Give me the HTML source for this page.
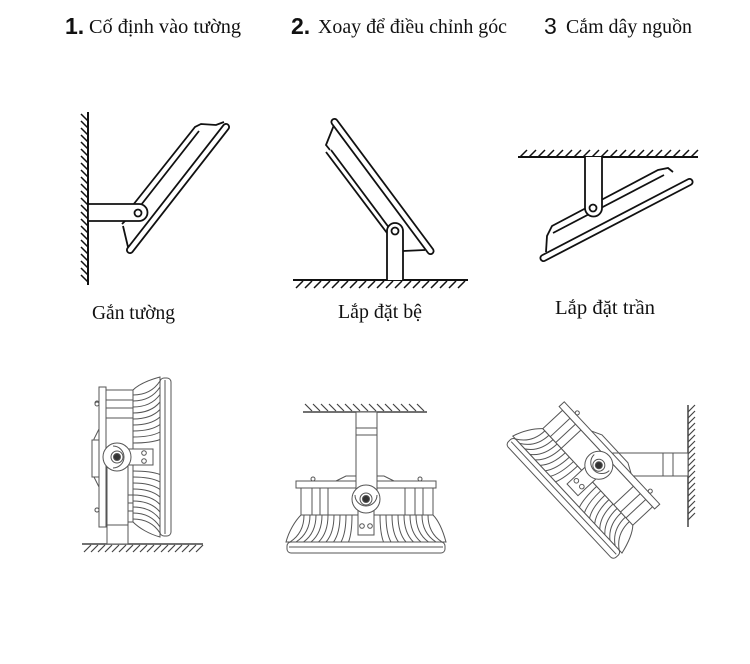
<!DOCTYPE html>
<html><head><meta charset="utf-8"><style>
html,body{margin:0;padding:0;background:#fff;}
svg{display:block;}
.t{font-family:"Liberation Serif","Noto Serif CJK SC",serif;font-size:20px;fill:#111;}
.n{font-family:"Liberation Sans","Noto Sans CJK SC",sans-serif;font-size:23px;fill:#111;}
</style></head><body>
<svg width="750" height="664" viewBox="0 0 750 664" xmlns="http://www.w3.org/2000/svg">
<defs>
<g id="lampbody" stroke="#555" stroke-width="1" fill="#fff">
  <path d="M-65,34 C-71,40 -77,50 -80,61 H80 C77,50 73,40 67,34 Z"/>
  <path fill="none" d="M14,34 Q14,52 17.5,61 M20,34 Q20,52 25,61 M26,34 Q26,52 32.5,61 M32,34 Q32,52 40,61 M38,34 Q38,52 47.5,61 M44,34 Q44,52 55,61 M50,34 Q50,52 62.5,61 M56,34 Q56,52 70,61 M62,34 Q62,52 76,61 M-14,34 Q-14,52 -17.5,61 M-20,34 Q-20,52 -25,61 M-26,34 Q-26,52 -32.5,61 M-32,34 Q-32,52 -40,61 M-38,34 Q-38,52 -47.5,61 M-44,34 Q-44,52 -55,61 M-50,34 Q-50,52 -62.5,61 M-56,34 Q-56,52 -70,61 M-62,34 Q-62,52 -76,61"/>
  <rect x="-65" y="7" width="132" height="27"/>
  <path fill="none" d="M-54,7V34 M-46,7V34 M-38,7V34 M39,7V34 M49,7V34 M57,7V34"/>
  <rect x="-70" y="0" width="140" height="7"/>
  <path fill="none" d="M-30,0 L-20,-5 H18 L28,0"/>
  <circle cx="-53" cy="-2" r="2"/><circle cx="54" cy="-2" r="2"/>
  <rect x="-79" y="61" width="158" height="11" rx="4"/>
  <path fill="none" d="M-77,66 H77"/>
  <rect x="-8" y="28" width="16" height="26"/>
  <circle cx="-4" cy="45" r="2.3"/><circle cx="4" cy="45" r="2.3"/>
</g>
<g id="pivot" stroke="#555" stroke-width="1" fill="#fff">
  <circle cx="0" cy="18" r="14"/>
  <path fill="none" d="M-11,14 A11,11 0 0 0 11,14"/>
  <circle cx="0" cy="18" r="6"/>
  <circle cx="0" cy="18" r="3.5" fill="#333"/>
</g>
</defs>

<!-- Headers -->
<text class="n" x="65" y="34" font-weight="bold">1.</text>
<text class="t" x="89" y="33" textLength="152" lengthAdjust="spacingAndGlyphs">Cố định vào tường</text>
<text class="n" x="291" y="34" font-weight="bold">2.</text>
<text class="t" x="318" y="33" textLength="189" lengthAdjust="spacingAndGlyphs">Xoay để điều chỉnh góc</text>
<text class="n" x="544" y="34">3</text>
<text class="t" x="566" y="33" textLength="126" lengthAdjust="spacingAndGlyphs">Cắm dây nguồn</text>

<!-- Labels -->
<text class="t" x="92" y="319" textLength="83" lengthAdjust="spacingAndGlyphs">Gắn tường</text>
<text class="t" x="338" y="318" textLength="84" lengthAdjust="spacingAndGlyphs">Lắp đặt bệ</text>
<text class="t" x="555" y="314" textLength="100" lengthAdjust="spacingAndGlyphs">Lắp đặt trần</text>

<!-- Top-left: wall mount -->
<g stroke="#111" fill="none" stroke-width="1.8">
  <line x1="88" y1="112" x2="88" y2="285" stroke-width="2"/>
  <path stroke-width="1.5" d="M81,114 l7,7 m-7,0 l7,7 m-7,0 l7,7 m-7,0 l7,7 m-7,0 l7,7 m-7,0 l7,7 m-7,0 l7,7 m-7,0 l7,7 m-7,0 l7,7 m-7,0 l7,7 m-7,0 l7,7 m-7,0 l7,7 m-7,0 l7,7 m-7,0 l7,7 m-7,0 l7,7 m-7,0 l7,7 m-7,0 l7,7 m-7,0 l7,7 m-7,0 l7,7 m-7,0 l7,7 m-7,0 l7,7 m-7,0 l7,7 m-7,0 l7,7 m-7,0 l7,7"/>
  <path d="M133,205 L195,127 L201,124 L216,125 L224,122"/>
  <path d="M141,205 L199,131"/>
  <path d="M122,224 L126,220 M123,226 L128,247"/>
  <line x1="130" y1="250" x2="226" y2="127" stroke-width="8" stroke-linecap="round"/>
  <line x1="130" y1="250" x2="226" y2="127" stroke="#fff" stroke-width="4.4" stroke-linecap="round"/>
  <path fill="#fff" d="M88,204 H139 A8.5,8.5 0 0 1 139,221 H88 Z"/>
  <circle cx="138" cy="213" r="3.5"/>
</g>

<!-- Top-middle: ground mount -->
<g stroke="#111" fill="none" stroke-width="1.8">
  <line x1="293" y1="280" x2="468" y2="280" stroke-width="2"/>
  <path stroke-width="1.5" d="M296,288 l7,-7 m2,7 l7,-7 m2,7 l7,-7 m2,7 l7,-7 m2,7 l7,-7 m2,7 l7,-7 m2,7 l7,-7 m2,7 l7,-7 m2,7 l7,-7 m2,7 l7,-7 m2,7 l7,-7 m2,7 l7,-7 m2,7 l7,-7 m2,7 l7,-7 m2,7 l7,-7 m2,7 l7,-7 m2,7 l7,-7 m2,7 l7,-7 m2,7 l7,-7"/>
  <path d="M334,125 L326,145 L330,150"/>
  <path d="M326,152 L387,233 M331,150 L390,229"/>
  <line x1="403" y1="251" x2="425" y2="250"/>
  <line x1="334.5" y1="122" x2="430.5" y2="251" stroke-width="8" stroke-linecap="round"/>
  <line x1="334.5" y1="122" x2="430.5" y2="251" stroke="#fff" stroke-width="4.4" stroke-linecap="round"/>
  <path fill="#fff" d="M387,280 V231 A8,8 0 0 1 403,231 V280"/>
  <circle cx="395" cy="231" r="3.5"/>
</g>

<!-- Top-right: ceiling mount -->
<g stroke="#111" fill="none" stroke-width="1.8">
  <line x1="518" y1="157" x2="698" y2="157" stroke-width="2"/>
  <path stroke-width="1.5" d="M520,157 l7,-7 m2,7 l7,-7 m2,7 l7,-7 m2,7 l7,-7 m2,7 l7,-7 m2,7 l7,-7 m2,7 l7,-7 m2,7 l7,-7 m2,7 l7,-7 m2,7 l7,-7 m2,7 l7,-7 m2,7 l7,-7 m2,7 l7,-7 m2,7 l7,-7 m2,7 l7,-7 m2,7 l7,-7 m2,7 l7,-7 m2,7 l7,-7 m2,7 l7,-7 m2,7 l7,-7"/>
  <path d="M546,252 L547,236 L552,226 L658,170 L668,168 L673,172"/>
  <path d="M553,233 L664,175"/>
  <line x1="543.5" y1="258" x2="689.5" y2="182" stroke-width="8" stroke-linecap="round"/>
  <line x1="543.5" y1="258" x2="689.5" y2="182" stroke="#fff" stroke-width="4.4" stroke-linecap="round"/>
  <path fill="#fff" d="M585,157 V208 A8.5,8.5 0 0 0 602,208 V157"/>
  <circle cx="593" cy="208" r="3.5"/>
</g>

<!-- Bottom-left: wall/side -->
<g stroke="#444" stroke-width="1.1" fill="none">
  <line x1="82" y1="544" x2="203" y2="544" stroke-width="1.5"/>
  <path stroke-width="1.2" d="M84,552 l7,-7 m0,7 l7,-7 m0,7 l7,-7 m0,7 l7,-7 m0,7 l7,-7 m0,7 l7,-7 m0,7 l7,-7 m0,7 l7,-7 m0,7 l7,-7 m0,7 l7,-7 m0,7 l7,-7 m0,7 l7,-7 m0,7 l7,-7 m0,7 l7,-7 m0,7 l7,-7 m0,7 l7,-7 m0,7 l7,-7"/>
</g>
<use href="#lampbody" transform="translate(99,457) rotate(-90)"/>
<g stroke="#555" stroke-width="1" fill="#fff">
  <rect x="92" y="440" width="7" height="37"/>
  <circle cx="97" cy="404" r="2"/><circle cx="97" cy="510" r="2"/>
  <rect x="107" y="462" width="21" height="82"/>
  <line x1="107" y1="525" x2="128" y2="525"/>
</g>
<use href="#pivot" transform="translate(99,457) rotate(-90)"/>

<!-- Bottom-middle: ceiling -->
<g stroke="#444" stroke-width="1.1" fill="none">
  <line x1="303" y1="412" x2="427" y2="412" stroke-width="1.5"/>
  <path stroke-width="1.2" d="M305,404 l7,7 m1,-7 l7,7 m1,-7 l7,7 m1,-7 l7,7 m1,-7 l7,7 m1,-7 l7,7 m1,-7 l7,7 m1,-7 l7,7 m1,-7 l7,7 m1,-7 l7,7 m1,-7 l7,7 m1,-7 l7,7 m1,-7 l7,7 m1,-7 l7,7 m1,-7 l7,7"/>
</g>
<use href="#lampbody" transform="translate(366,481)"/>
<g stroke="#555" stroke-width="1" fill="#fff">
  <rect x="356" y="412" width="21" height="82"/>
  <path fill="none" d="M356,428 H377 M356,435 H377"/>
</g>
<use href="#pivot" transform="translate(366,481)"/>

<!-- Bottom-right: wall tilted -->
<g stroke="#444" stroke-width="1.1" fill="none">
  <line x1="688" y1="405" x2="688" y2="527" stroke-width="1.5"/>
  <path stroke-width="1.2" d="M688,412 l7,-7 m-7,13 l7,-7 m-7,13 l7,-7 m-7,13 l7,-7 m-7,13 l7,-7 m-7,13 l7,-7 m-7,13 l7,-7 m-7,13 l7,-7 m-7,13 l7,-7 m-7,13 l7,-7 m-7,13 l7,-7 m-7,13 l7,-7 m-7,13 l7,-7 m-7,13 l7,-7 m-7,13 l7,-7 m-7,13 l7,-7 m-7,13 l7,-7 m-7,13 l7,-7 m-7,13 l7,-7"/>
  <rect x="613" y="453" width="75" height="23" fill="#fff" stroke="#555" stroke-width="1"/>
  <path stroke="#555" stroke-width="1" d="M663,453 V476 M673,453 V476"/>
</g>
<use href="#lampbody" transform="translate(612,453) rotate(47)"/>
<use href="#pivot" transform="translate(612,453) rotate(47)"/>
</svg>
</body></html>
